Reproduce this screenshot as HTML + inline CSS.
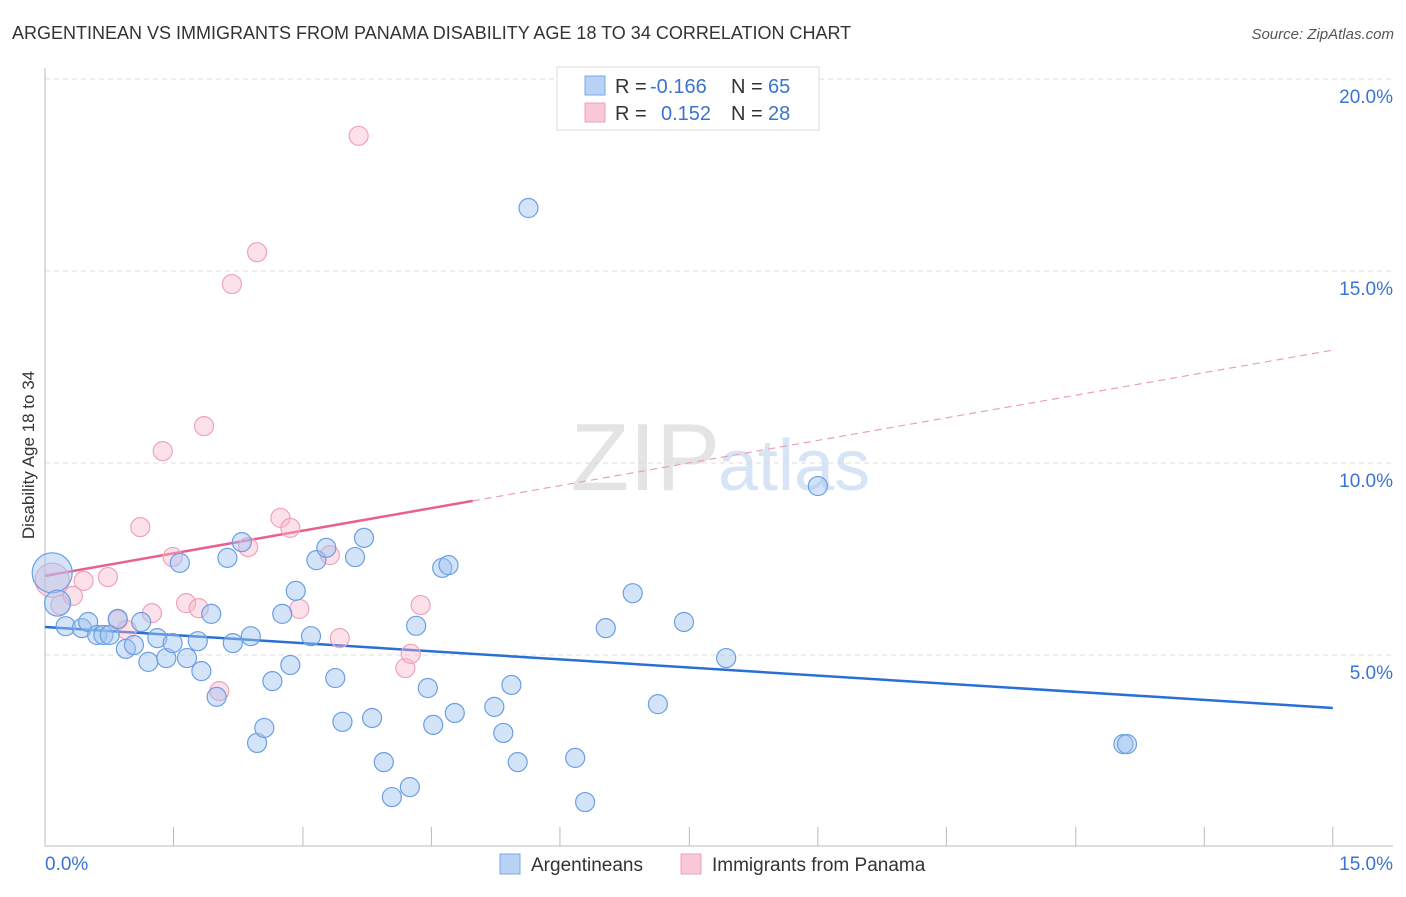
<!DOCTYPE html>
<html><head><meta charset="utf-8"><style>
body{margin:0;background:#fff;font-family:"Liberation Sans",sans-serif}
svg text{font-family:"Liberation Sans",sans-serif}
</style></head><body>
<svg id="chart" width="1406" height="892" xmlns="http://www.w3.org/2000/svg">
<text x="12" y="39" font-size="18" fill="#333">ARGENTINEAN VS IMMIGRANTS FROM PANAMA DISABILITY AGE 18 TO 34 CORRELATION CHART</text>
<text x="1394" y="39" font-size="15" fill="#555" text-anchor="end" font-style="italic">Source: ZipAtlas.com</text>
<text x="720" y="490" font-size="96" fill="#e4e4e4" text-anchor="end" font-family="Liberation Serif">ZIP</text>
<text x="718" y="490" font-size="72" fill="#d6e4f6">atlas</text>
<text transform="translate(34,455) rotate(-90)" font-size="17" fill="#333" text-anchor="middle">Disability Age 18 to 34</text>
<g id="grid"></g><g id="axes"></g><g id="lines"></g><g id="pts"></g>
<g>
<rect x="557" y="67" width="262" height="63" fill="#fff" stroke="#ddd"/>
<rect x="585" y="76" width="20" height="19" fill="#b8d2f4" stroke="#7aa8e6"/>
<rect x="585" y="103" width="20" height="19" fill="#f9c8d6" stroke="#f0a0b8"/>
<text x="615" y="93" font-size="20" fill="#333">R = </text><text x="650" y="93" font-size="20" fill="#3a74d0">-0.166</text>
<text x="731" y="93" font-size="20" fill="#333">N = </text><text x="768" y="93" font-size="20" fill="#3a74d0">65</text>
<text x="615" y="120" font-size="20" fill="#333">R = </text><text x="661" y="120" font-size="20" fill="#3a74d0">0.152</text>
<text x="731" y="120" font-size="20" fill="#333">N = </text><text x="768" y="120" font-size="20" fill="#3a74d0">28</text>
</g>
<g>
<rect x="500" y="854" width="20" height="20" fill="#b8d2f4" stroke="#7aa8e6"/>
<text x="531" y="871" font-size="19" fill="#333">Argentineans</text>
<rect x="681" y="854" width="20" height="20" fill="#f9c8d6" stroke="#f0a0b8"/>
<text x="712" y="871" font-size="19" fill="#333">Immigrants from Panama</text>
</g>
</svg>
<script>
const blueX=[0.08,0.14,0.23,0.41,0.48,0.58,0.65,0.72,0.81,0.90,0.99,1.07,1.15,1.25,1.35,1.42,1.50,1.58,1.70,1.74,1.85,1.91,2.03,2.09,2.19,2.29,2.36,2.44,2.53,2.64,2.73,2.79,2.96,3.02,3.13,3.23,3.31,3.45,3.55,3.64,3.77,3.86,4.06,4.13,4.26,4.32,4.42,4.49,4.56,5.00,5.10,5.19,5.26,5.38,5.90,6.01,6.24,6.54,6.82,7.11,7.58,8.60,12.00,12.04];
const blueY=[7.14,6.35,5.75,5.70,5.86,5.52,5.52,5.52,5.94,5.16,5.26,5.86,4.82,5.44,4.92,5.31,7.40,4.92,5.36,4.58,6.07,3.91,7.53,5.31,7.94,5.49,2.71,3.10,4.32,6.07,4.74,6.67,5.49,7.47,7.79,4.40,3.26,7.55,8.05,3.36,2.21,1.30,1.56,5.76,4.14,3.18,7.27,7.34,3.49,3.65,2.97,4.22,2.21,16.64,2.32,1.17,5.70,6.61,3.72,5.86,4.92,9.40,2.68,2.68];
const pinkX=[0.08,0.17,0.31,0.43,0.70,0.81,0.91,1.06,1.19,1.31,1.42,1.57,1.71,1.77,1.94,2.08,2.26,2.36,2.62,2.73,2.83,3.17,3.28,3.49,4.01,4.07,4.18];
const pinkY=[6.95,6.30,6.54,6.93,7.03,5.91,5.65,8.33,6.09,10.31,7.55,6.35,6.22,10.96,4.06,14.66,7.81,15.49,8.57,8.31,6.20,7.60,5.44,18.52,4.66,5.03,6.30];
const yTicks=[5,10,15,20];
const yTickLabels=["5.0%","10.0%","15.0%","20.0%"];
const xTicks=[0,1.43,2.87,4.30,5.73,7.17,8.60,10.03,11.47,12.90,14.33];
const blueTrend=[5.73,3.62], pinkTrend=[7.06,12.94], trendEndX=14.33, pinkSolidEnd=4.76;
const sx=v=>45+v*1348/15, sy=v=>847-v*38.4;
const NS="http://www.w3.org/2000/svg";
function mk(parent,tag,attrs){const e=document.createElementNS(NS,tag);for(const k in attrs)e.setAttribute(k,attrs[k]);document.getElementById(parent).appendChild(e);return e;}
yTicks.forEach((t,i)=>{
 const l=mk('grid','line',{x1:45,x2:1393,y1:sy(t),y2:sy(t),stroke:'#ddd','stroke-dasharray':'5,4'});
 
 
 const tx=mk('grid','text',{x:1393,y:sy(t)+24,'font-size':19,fill:'#3a74d0','text-anchor':'end'});
 tx.textContent=yTickLabels[i];
 
 
});
const ax=mk('axes','line',{x1:45,x2:45,y1:68,y2:846,stroke:'#bbb'});


const bx=mk('axes','line',{x1:45,x2:1393,y1:846,y2:846,stroke:'#bbb'});


xTicks.forEach(t=>{const l=mk('axes','line',{x1:sx(t),x2:sx(t),y1:827,y2:846,stroke:'#bbb'});
 
 });
const xl0=mk('axes','text',{x:45,y:870,'font-size':19,fill:'#3a74d0'});xl0.textContent='0.0%';


const xl1=mk('axes','text',{x:1393,y:870,'font-size':19,fill:'#3a74d0','text-anchor':'end'});xl1.textContent='15.0%';


function pts(X,Y,fill,stroke,name){X.forEach((x,i)=>{let r=9.5;if(i===0)r=name==='argentinean-point'?20:17;if(i===1&&name==='argentinean-point')r=13;
 const c=mk('pts','circle',{cx:sx(x),cy:sy(Y[i]),r:r,fill:fill,stroke:stroke,'stroke-width':1.2});
 
 });}
pts(pinkX,pinkY,'rgba(248,180,202,0.4)','#f0a2ba','panama-point');
pts(blueX,blueY,'rgba(160,196,240,0.45)','#6b9fe2','argentinean-point');
const pAt=x=>pinkTrend[0]+(pinkTrend[1]-pinkTrend[0])*x/trendEndX;
const bl=mk('lines','line',{x1:sx(0),y1:sy(blueTrend[0]),x2:sx(trendEndX),y2:sy(blueTrend[1]),stroke:'#2a6fd6','stroke-width':2.5});


const ps=mk('lines','line',{x1:sx(0),y1:sy(pAt(0)),x2:sx(pinkSolidEnd),y2:sy(pAt(pinkSolidEnd)),stroke:'#e8608e','stroke-width':2.5});


const pd=mk('lines','line',{x1:sx(pinkSolidEnd),y1:sy(pAt(pinkSolidEnd)),x2:sx(trendEndX),y2:sy(pAt(trendEndX)),stroke:'#e8a0b8','stroke-width':1.2,'stroke-dasharray':'7,5'});


</script>
</body></html>
